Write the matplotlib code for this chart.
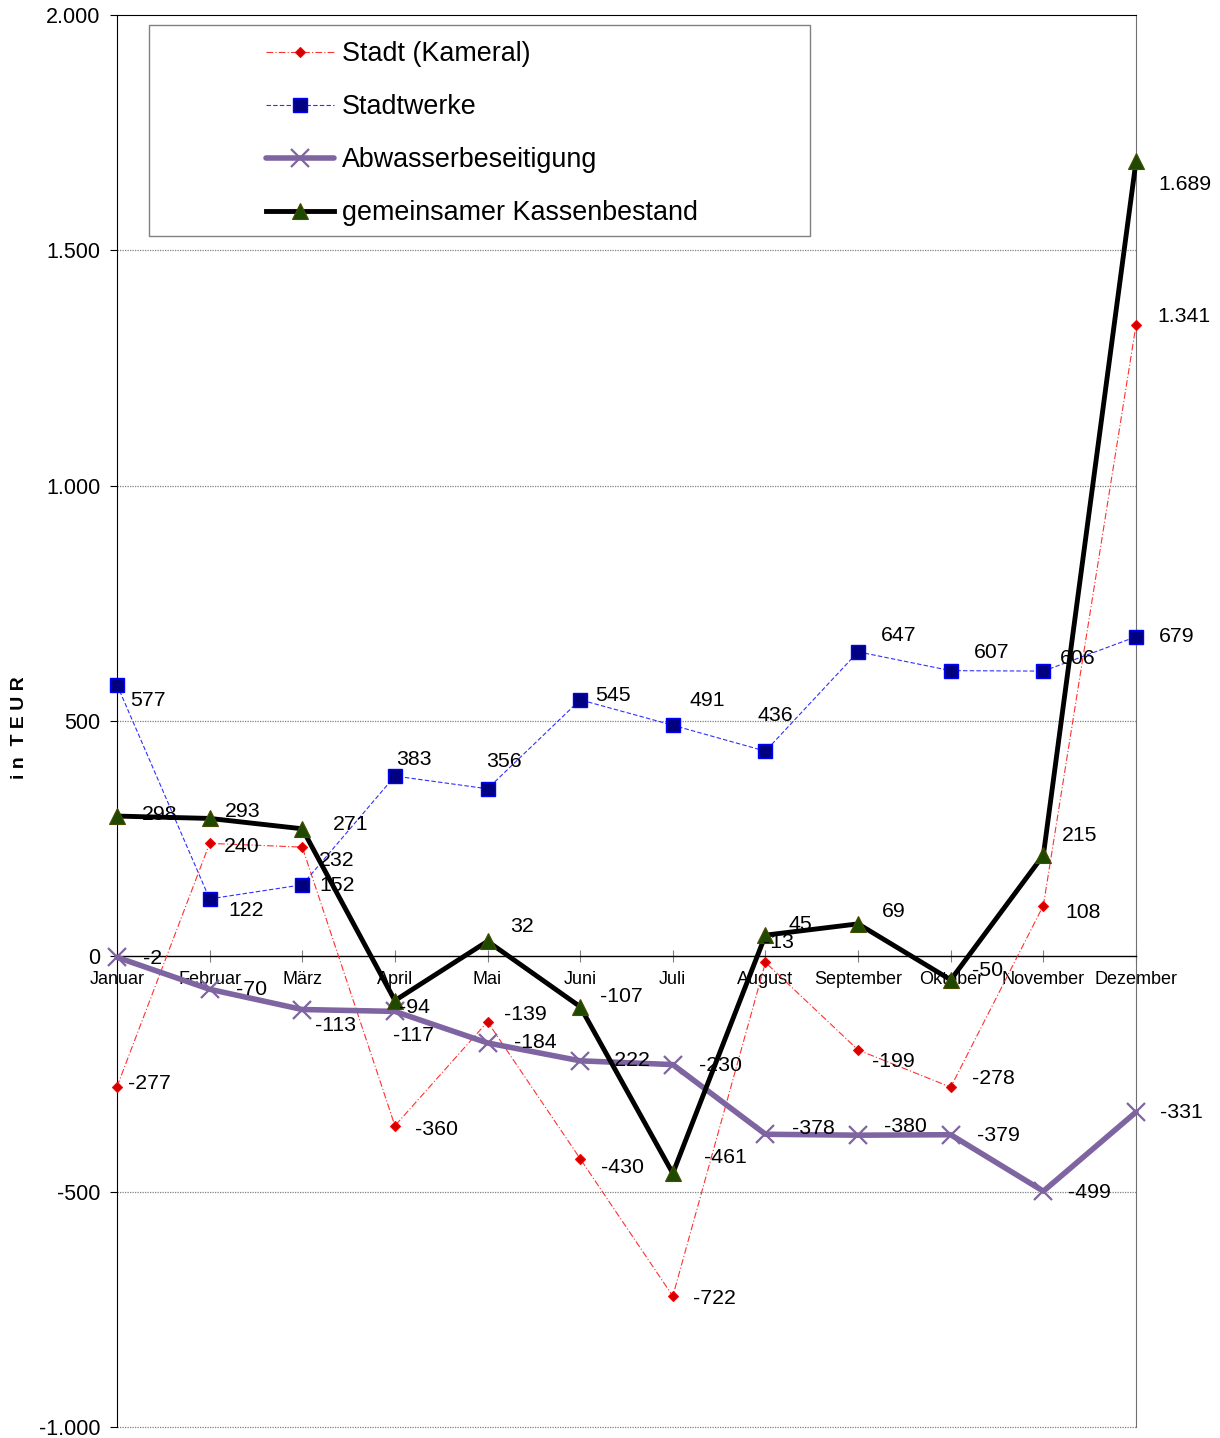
"""Kassenbestand nach Monaten (Stadt, Stadtwerke, Abwasser) in TEUR."""
import matplotlib

matplotlib.use("Agg")
import matplotlib.pyplot as plt
from matplotlib.patches import Rectangle
from matplotlib.ticker import FuncFormatter

plt.rcParams["font.family"] = ["Liberation Sans", "DejaVu Sans"]

MONTHS = ["Januar", "Februar", "März", "April", "Mai", "Juni", "Juli",
          "August", "September", "Oktober", "November", "Dezember"]

STADT = [-277, 240, 232, -360, -139, -430, -722, -13, -199, -278, 108, 1341]
STADTWERKE = [577, 122, 152, 383, 356, 545, 491, 436, 647, 607, 606, 679]
ABWASSER = [-2, -70, -113, -117, -184, -222, -230, -378, -380, -379, -499, -331]
KASSE = [298, 293, 271, -94, 32, -107, -461, 45, 69, -50, 215, 1689]

# Beschriftungs-Versatz je Punkt (Pixel, rechts / oben)
OFF_STADT = [(11, 3), (14, -3), (17, -13), (20, -4), (16, 7), (21, -9),
             (20, -2), (-2, 20), (14, -12), (21, 9), (22, -7), (21, 9)]
OFF_WERKE = [(13, -16), (19, -12), (17, -1), (1, 17), (-1, 27), (15, 4),
             (17, 25), (-8, 36), (23, 16), (23, 18), (17, 13), (23, 0)]
OFF_ABW = [(26, -1), (26, 0), (13, -16), (-2, -24), (26, 0), (27, 0),
           (26, -1), (27, 6), (26, 9), (26, -1), (25, -1), (24, 0)]
OFF_KASSE = [(25, 2), (15, 7), (31, 4), (4, -7), (23, 15), (20, 10),
             (31, 16), (23, 11), (24, 12), (21, 9), (19, 20), (22, -23)]


def de_num(v, _=None):
    return f"{v:,.0f}".replace(",", ".")


W, H = 1220, 1438
fig = plt.figure(figsize=(W / 100, H / 100), dpi=100)
ax = fig.add_axes([117 / W, 1 - 1427 / H, (1136 - 117) / W, (1427 - 15) / H])

x = list(range(len(MONTHS)))

series = [
    ("Stadt (Kameral)", STADT, OFF_STADT,
     dict(color="#FF3030", lw=0.8, ls=(0, (6, 2, 1, 2)), marker="D", ms=5,
          mfc="#D00000", mec="#FF0000", mew=0.8)),
    ("Stadtwerke", STADTWERKE, OFF_WERKE,
     dict(color="#3030FF", lw=0.8, ls=(0, (4, 2)), marker="s", ms=9.5,
          mfc="#000080", mec="#0000FF", mew=1.0)),
    ("Abwasserbeseitigung", ABWASSER, OFF_ABW,
     dict(color="#7F64A2", lw=4, marker="x", ms=13, mew=1.6,
          solid_capstyle="round")),
    ("gemeinsamer Kassenbestand", KASSE, OFF_KASSE,
     dict(color="black", lw=3.5, marker="^", ms=11, mfc="#1E4A00",
          mec="#4A4A00", mew=0.8)),
]

handles = []
for name, vals, offs, style in series:
    ln, = ax.plot(x, vals, label=name, clip_on=False, zorder=3, **style)
    handles.append(ln)
    for xi, v, (dx, dy) in zip(x, vals, offs):
        ax.annotate(de_num(v), xy=(xi, v), xytext=(dx, dy),
                    textcoords="offset pixels", ha="left", va="center",
                    fontsize=15.3, color="black", zorder=5,
                    annotation_clip=False)

ax.set_xlim(0, 11)
ax.set_ylim(-1000, 2000)
ax.set_yticks(range(-1000, 2001, 500))
ax.yaxis.set_major_formatter(FuncFormatter(de_num))
ax.set_xticks(x)
ax.set_xticklabels(MONTHS)

for yv in (-1000, -500, 500, 1000, 1500):
    ax.axhline(yv, color="#808080", lw=0.9, ls=(0, (1, 1)), zorder=1,
               clip_on=False)

ax.spines["bottom"].set_position(("data", 0))
ax.spines["bottom"].set_color("black")
ax.spines["bottom"].set_linewidth(1.0)
ax.spines["left"].set_color("black")
ax.spines["top"].set_color("black")
ax.spines["right"].set_color("#707070")
ax.tick_params(axis="x", direction="inout", length=9, width=0.8,
               color="#808080", labelsize=13, pad=6)
ax.tick_params(axis="y", direction="out", length=5, width=0.8,
               labelsize=15.5, pad=7)

fig.text(20 / W, 1 - 728 / H, "i n  T E U R", rotation=90, ha="center",
         va="center", fontsize=14, fontweight="bold")

box = Rectangle((149 / W, 1 - 236 / H), (810 - 149) / W, (236 - 25) / H,
                transform=fig.transFigure, facecolor="white",
                edgecolor="#808080", lw=1.0, zorder=6)
fig.add_artist(box)
leg = fig.legend(handles=handles, loc="upper left",
                 bbox_to_anchor=(253 / W, 1 - 28 / H), frameon=False,
                 fontsize=19.4, borderpad=0, handlelength=2.5,
                 handletextpad=0.3, labelspacing=1.0)
leg.set_zorder(7)

fig.savefig("out.png", dpi=100)
